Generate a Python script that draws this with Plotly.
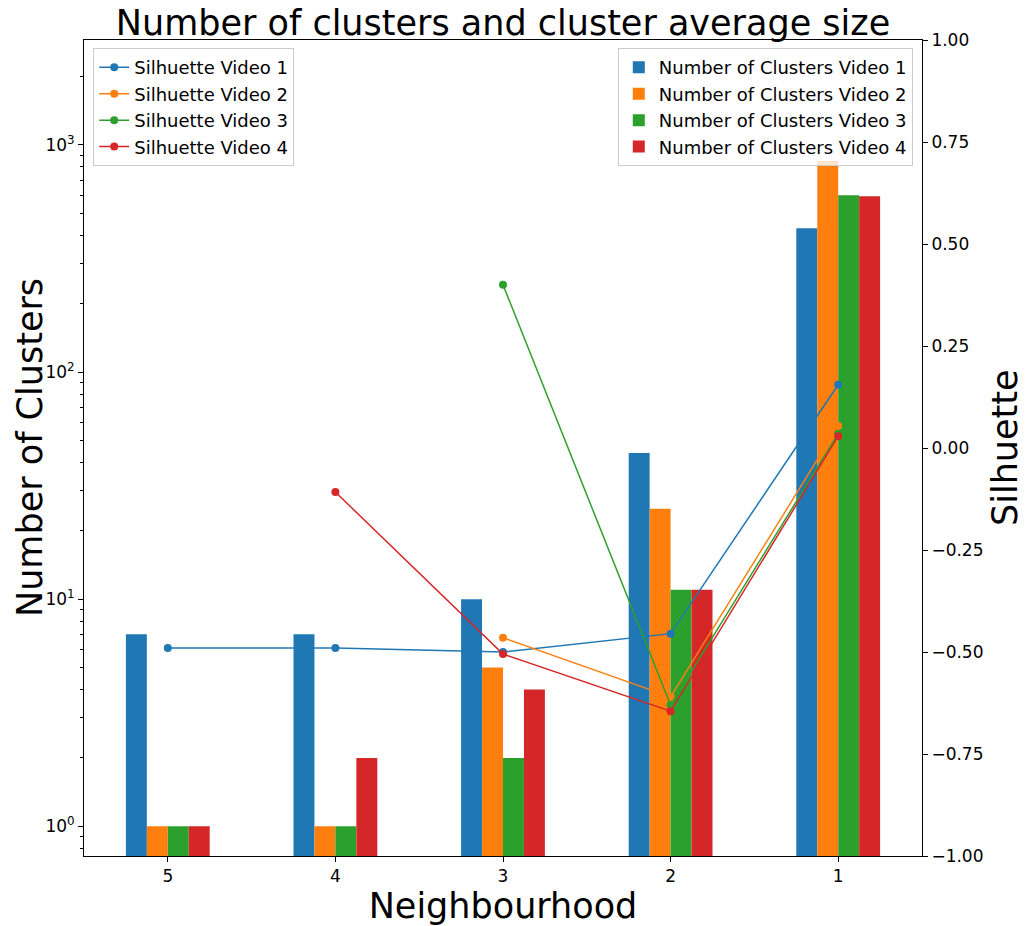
import plotly.graph_objects as go

neighbourhood = ["5", "4", "3", "2", "1"]

clusters_v1 = [7, 7, 10, 44, 430]
clusters_v2 = [1, 1, 5, 25, 850]
clusters_v3 = [1, 1, 2, 11, 600]
clusters_v4 = [1, 2, 4, 11, 595]

silhouette_v1 = [-0.49, -0.49, -0.50, -0.455, 0.155]
silhouette_v2 = [None, None, -0.465, -0.61, 0.054]
silhouette_v3 = [None, None, 0.40, -0.63, 0.035]
silhouette_v4 = [None, -0.108, -0.505, -0.645, 0.029]

colors = ["#1f77b4", "#ff7f0e", "#2ca02c", "#d62728"]
font = "DejaVu Sans"

fig = go.Figure()

bar_sets = [clusters_v1, clusters_v2, clusters_v3, clusters_v4]
for i, vals in enumerate(bar_sets):
    fig.add_trace(go.Bar(
        x=neighbourhood, y=vals, name=f"Number of Clusters Video {i + 1}",
        marker=dict(color=colors[i], line_width=0), legend="legend2",
    ))

sil_sets = [silhouette_v1, silhouette_v2, silhouette_v3, silhouette_v4]
for i, vals in enumerate(sil_sets):
    fig.add_trace(go.Scatter(
        x=neighbourhood, y=vals, name=f"Silhuette Video {i + 1}", yaxis="y2",
        mode="lines+markers", line=dict(color=colors[i], width=1.5),
        marker=dict(color=colors[i], size=8), legend="legend",
    ))

# log minor tick positions
minor_vals = [m * 10 ** e for e in range(-1, 4) for m in range(2, 10)]

# page body has an 8px margin, so margins are offset by that
fig.update_layout(
    width=1028, height=926,
    margin=dict(l=76, r=114, t=32, b=78),
    paper_bgcolor="white", plot_bgcolor="white",
    font=dict(family=font, size=17, color="black"),
    barmode="group", bargap=0.5, bargroupgap=0,
    title=dict(text="Number of clusters and cluster average size", x=0.5, xref="paper",
               y=1 - 15 / 926, yref="container", yanchor="middle",
               font=dict(size=35, family=font)),
    xaxis=dict(
        type="category", range=[-0.5, 4.5], automargin=False,
        showline=True, linecolor="black", linewidth=1, mirror=True,
        ticks="outside", ticklen=5, tickcolor="black", showgrid=False,
        title=dict(text="Neighbourhood", font=dict(size=35), standoff=1),
    ),
    yaxis=dict(
        type="log", range=[-0.131, 3.462], automargin=False,
        showline=True, linecolor="black", linewidth=1, mirror=True,
        ticks="outside", ticklen=5, tickcolor="black", showgrid=False, zeroline=False,
        tickvals=[1, 10, 100, 1000],
        ticktext=["10<sup>0</sup>", "10<sup>1</sup>", "10<sup>2</sup>", "10<sup>3</sup>"],
        minor=dict(tickvals=minor_vals, ticks="outside", ticklen=3, tickcolor="black", showgrid=False),
    ),
    yaxis2=dict(
        overlaying="y", side="right", range=[-1, 1], automargin=False,
        showline=True, linecolor="black", linewidth=1,
        ticks="outside", ticklen=5, tickcolor="black", showgrid=False, zeroline=False,
        tickvals=[-1, -0.75, -0.5, -0.25, 0, 0.25, 0.5, 0.75, 1], tickformat=".2f",
    ),
    legend=dict(
        x=0.011, y=0.99, xanchor="left", yanchor="top",
        bgcolor="rgba(255,255,255,0.8)", bordercolor="#cccccc", borderwidth=1,
        font=dict(size=18), tracegroupgap=0,
    ),
    legend2=dict(
        x=0.989, y=0.99, xanchor="right", yanchor="top",
        bgcolor="rgba(255,255,255,0.8)", bordercolor="#cccccc", borderwidth=1,
        font=dict(size=18), tracegroupgap=0,
    ),
)

# axis titles for the two y axes
fig.add_annotation(text="Number of Clusters", textangle=-90, xref="paper", yref="paper",
                   x=0, y=0.5, xanchor="center", yanchor="middle", xshift=-54,
                   showarrow=False, font=dict(size=35))
fig.add_annotation(text="Silhuette", textangle=-90, xref="paper", yref="paper",
                   x=1, y=0.5, xanchor="center", yanchor="middle", xshift=83,
                   showarrow=False, font=dict(size=35))

fig.write_html("out.html")
